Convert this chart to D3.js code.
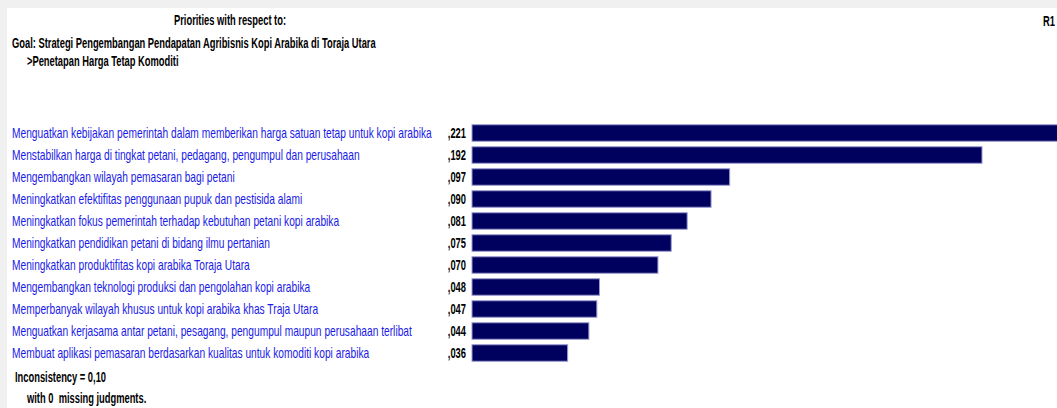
<!DOCTYPE html>
<html>
<head>
<meta charset="utf-8">
<script src="https://cdn.jsdelivr.net/npm/d3@7"></script>
<style>
  html, body { margin: 0; padding: 0; background: #f0f0f0; }
  svg { display: block; }
</style>
</head>
<body>
<svg width="1057" height="408"></svg>
<script>
// alternatives (labels) and their priorities, in the order shown
const labels = [
   "Menguatkan kebijakan pemerintah dalam memberikan harga satuan tetap untuk kopi arabika",
   "Menstabilkan harga di tingkat petani, pedagang, pengumpul dan perusahaan",
   "Mengembangkan wilayah pemasaran bagi petani",
   "Meningkatkan efektifitas penggunaan pupuk dan pestisida alami",
   "Meningkatkan fokus pemerintah terhadap kebutuhan petani kopi arabika",
   "Meningkatkan pendidikan petani di bidang ilmu pertanian",
   "Meningkatkan produktifitas kopi arabika Toraja Utara",
   "Mengembangkan teknologi produksi dan pengolahan kopi arabika",
   "Memperbanyak wilayah khusus untuk kopi arabika khas Traja Utara",
   "Menguatkan kerjasama antar petani, pesagang, pengumpul maupun perusahaan terlibat",
   "Membuat aplikasi pemasaran berdasarkan kualitas untuk komoditi kopi arabika"
];
const values = [0.221, 0.192, 0.097, 0.090, 0.081, 0.075, 0.070, 0.048, 0.047, 0.044, 0.036];
const valueText = [",221", ",192", ",097", ",090", ",081", ",075", ",070", ",048", ",047", ",044", ",036"];

const headerLines = [
   "Priorities with respect to:",
   "Goal: Strategi Pengembangan Pendapatan Agribisnis Kopi Arabika di Toraja Utara",
   ">Penetapan Harga Tetap Komoditi"
];
const footerLines = ["Inconsistency = 0,10", "with 0  missing judgments."];

const svg = d3.select("svg");
const font = "'Liberation Sans', Arial, sans-serif";
const fontSize = 14;

// white panel with the grey frame on top and left
svg.append("rect")
   .attr("x", 7).attr("y", 8)
   .attr("width", 1050).attr("height", 400)
   .attr("fill", "#ffffff");

// scales: bars start right after the value column
const x = d3.scaleLinear()
   .domain([0, 0.192])
   .range([472, 982]);

const y = d3.scaleBand()
   .domain(labels)
   .range([122, 122 + labels.length * 22])
   .paddingInner(0.25)
   .paddingOuter(0.125);

// condensed look: measure a known line and squeeze text so it fits the same width
function measure(txt, weight) {
   const probe = svg.append("text")
      .style("font-family", font).style("font-size", fontSize + "px")
      .style("font-weight", weight)
      .text(txt);
   const w = probe.node().getComputedTextLength();
   probe.remove();
   return w;
}
const squeezeNormal = 420 / measure(labels[0], "normal");
const squeezeBold = 364 / measure(headerLines[1], "bold");

function condensedText(g, txt, px, py, opts) {
   const bold = opts.weight === "bold";
   const k = bold ? squeezeBold : squeezeNormal;
   return g.append("text")
      .attr("transform", `translate(${px},${py}) scale(${k},1)`)
      .style("font-family", font)
      .style("font-size", fontSize + "px")
      .style("font-weight", bold ? "bold" : "normal")
      .style("white-space", "pre")
      .attr("fill", opts.fill || "#000")
      .attr("text-anchor", opts.anchor || "start")
      .text(txt);
}

// header
condensedText(svg, headerLines[0], 230, 25, { weight: "bold", anchor: "middle" });
condensedText(svg, headerLines[1], 12, 48, { weight: "bold" });
condensedText(svg, headerLines[2], 27, 66, { weight: "bold" });
condensedText(svg, "R1", 1055, 26, { weight: "bold", anchor: "end" });

// labels and values
const rows = svg.append("g");
labels.forEach((d, i) => {
   const cy = y(d) + y.bandwidth() / 2 + 5;
   condensedText(rows, d, 12, cy, { fill: "#1a1ae8" });
   condensedText(rows, valueText[i], 466, cy, { weight: "bold", anchor: "end" });
});

// bars
svg.append("g").selectAll("rect")
   .data(values)
   .enter().append("rect")
   .attr("x", x(0))
   .attr("y", (d, i) => y(labels[i]))
   .attr("width", d => x(d) - x(0))
   .attr("height", y.bandwidth())
   .attr("fill", "#00005f")
   .attr("stroke", "#9a9ad0")
   .attr("stroke-width", 1);

// footer
condensedText(svg, footerLines[0], 15, 382, { weight: "bold" });
condensedText(svg, footerLines[1], 27, 403, { weight: "bold" });
</script>
</body>
</html>
